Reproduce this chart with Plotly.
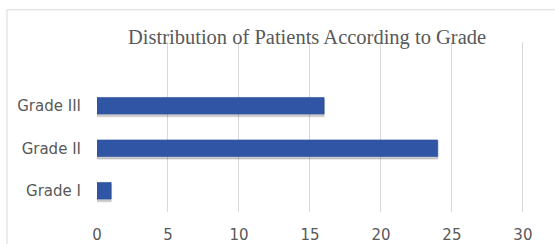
import plotly.graph_objects as go

categories = ["Grade I", "Grade II", "Grade III"]
patients = [1, 24, 16]
x_ticks = [0, 5, 10, 15, 20, 25, 30]
title_text = "Distribution of Patients According to Grade"

W, H = 555, 244
L, R, T, B = 97, 25, 41.5, 31.5
pw = W - L - R
ph = H - T - B

tick_font = dict(family="DejaVu Sans, Verdana, sans-serif", size=15, color="#595959")

fig = go.Figure()
# soft shadow
fig.add_trace(go.Bar(
    y=categories, x=patients, orientation="h",
    width=0.39, offset=-0.195 - 0.06,
    marker=dict(color="rgba(0,0,0,0.18)", line=dict(color="rgba(0,0,0,0.08)", width=2)),
    hoverinfo="skip", showlegend=False,
))
fig.add_trace(go.Bar(
    y=categories, x=patients, orientation="h",
    width=0.39, offset=-0.195,
    marker=dict(color="#2F55A4", line=dict(color="#2A4C96", width=0.6)),
    showlegend=False,
))

fig.update_layout(
    width=W, height=H,
    margin=dict(l=L, r=R, t=T, b=B, pad=0, autoexpand=False),
    paper_bgcolor="white", plot_bgcolor="white",
    barmode="overlay",
    xaxis=dict(
        range=[0, 30.5], tickvals=x_ticks, showgrid=True, automargin=False,
        gridcolor="#D9D9D9", gridwidth=1, zeroline=False, showline=False,
        ticks="", ticklabelstandoff=12,
        tickfont=tick_font,
    ),
    yaxis=dict(
        range=[-0.5, 3.5], showgrid=False, zeroline=False, showline=False,
        automargin=False, ticks="", ticklabelstandoff=15,
        categoryorder="array", categoryarray=categories,
        tickfont=tick_font,
    ),
    shapes=[dict(
        type="rect", xref="paper", yref="paper",
        x0=(7 - L) / pw, x1=1.3, y0=-0.6, y1=(H - B - 9) / ph,
        line=dict(color="#D9D9D9", width=1), fillcolor="rgba(0,0,0,0)", layer="below",
    )],
    annotations=[dict(
        text=title_text, xref="paper", yref="paper",
        x=(307 - L) / pw, y=(H - B - 37) / ph, xanchor="center", yanchor="middle",
        showarrow=False,
        font=dict(family="Liberation Serif, Times New Roman, serif", size=20.5, color="#595959"),
    )],
)

fig.write_html(
    "out.html",
    config={"displayModeBar": False},
    post_script="document.body.style.margin='0';document.body.style.overflow='hidden';",
)
